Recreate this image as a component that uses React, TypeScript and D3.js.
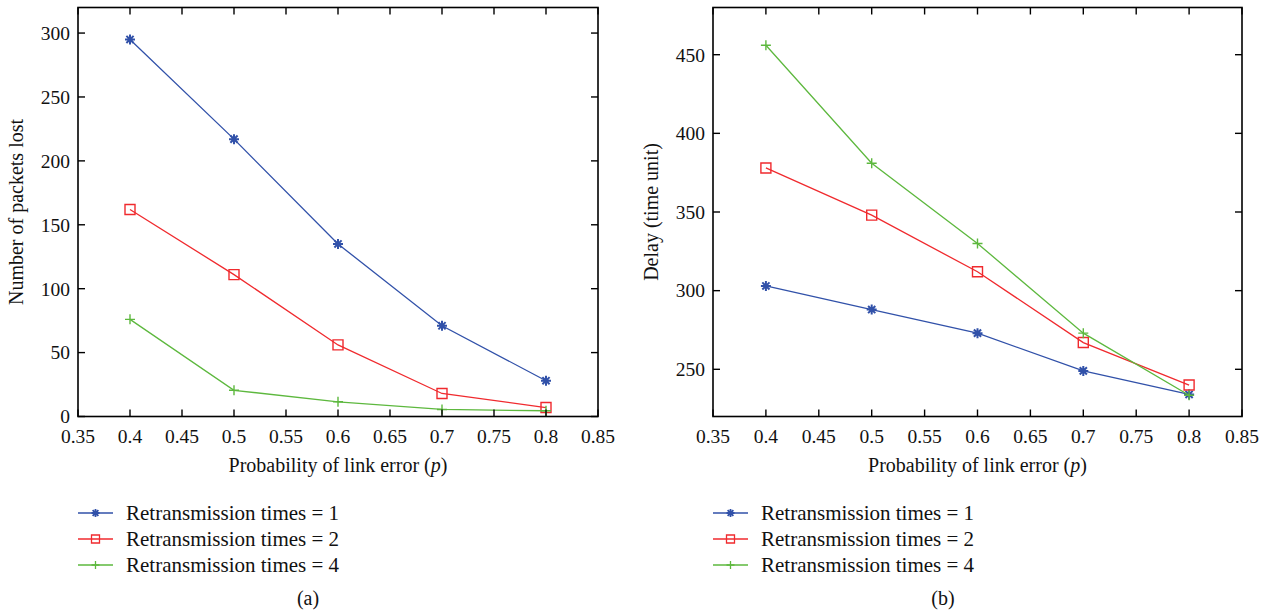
import React from "react";
import * as d3 from "d3";

// x values (probability of link error)
const pValues = [0.4, 0.5, 0.6, 0.7, 0.8];
const xTicks = [0.35, 0.4, 0.45, 0.5, 0.55, 0.6, 0.65, 0.7, 0.75, 0.8, 0.85];

const seriesNames = [
  "Retransmission times = 1",
  "Retransmission times = 2",
  "Retransmission times = 4",
];
const seriesColors = ["#3151a9", "#f02a2e", "#5db83e"];
const seriesMarkers = ["star", "square", "plus"];

// panel (a): packets lost
const lostR1 = [295, 217, 135, 71, 28];
const lostR2 = [162, 111, 56, 18, 7];
const lostR4 = [76, 20.5, 11.5, 5.5, 4.5];
const lostTicks = [0, 50, 100, 150, 200, 250, 300];

// panel (b): delay
const delayR1 = [303, 288, 273, 249, 234];
const delayR2 = [378, 348, 312, 267, 240];
const delayR4 = [456, 381, 330, 273, 233.5];
const delayTicks = [250, 300, 350, 400, 450];

const FONT = "'Liberation Serif', 'Times New Roman', serif";

function markerPath(kind, s) {
  if (kind === "square") {
    return `M${-s},${-s}H${s}V${s}H${-s}Z`;
  }
  if (kind === "plus") {
    return `M${-s},0H${s}M0,${-s}V${s}`;
  }
  // asterisk
  const d = s * 0.72;
  return `M${-s},0H${s}M0,${-s}V${s}M${-d},${-d}L${d},${d}M${-d},${d}L${d},${-d}`;
}

function Panel({ left, width, yDomain, yTicks, series, yLabel, tag }) {
  const ref = React.useRef();
  React.useEffect(() => {
    const top = 7.5;
    const bottom = 416.5;
    const g = d3.select(ref.current);
    g.selectAll("*").remove();

    const x = d3.scaleLinear().domain([0.35, 0.85]).range([left, left + width]);
    const y = d3.scaleLinear().domain(yDomain).range([bottom, top]);
    const tickLen = 7;

    // lines + markers
    series.forEach((vals, i) => {
      const pts = pValues.map((p, j) => [x(p), y(vals[j])]);
      g.append("path")
        .attr("d", d3.line()(pts))
        .attr("fill", "none")
        .attr("stroke", seriesColors[i])
        .attr("stroke-width", 1.3);
      g.append("g")
        .selectAll()
        .data(pts)
        .join("path")
        .attr("transform", (d) => `translate(${d[0]},${d[1]})`)
        .attr("d", markerPath(seriesMarkers[i], 5))
        .attr("fill", "none")
        .attr("stroke", seriesColors[i])
        .attr("stroke-width", seriesMarkers[i] === "star" ? 2 : 1.4);
    });

    // frame
    g.append("rect")
      .attr("x", left)
      .attr("y", top)
      .attr("width", width)
      .attr("height", bottom - top)
      .attr("fill", "none")
      .attr("stroke", "#000")
      .attr("stroke-width", 1.6);

    // x ticks
    xTicks.forEach((t) => {
      g.append("line")
        .attr("x1", x(t)).attr("x2", x(t))
        .attr("y1", bottom).attr("y2", bottom - tickLen)
        .attr("stroke", "#000").attr("stroke-width", 1.4);
      g.append("line")
        .attr("x1", x(t)).attr("x2", x(t))
        .attr("y1", top).attr("y2", top + tickLen)
        .attr("stroke", "#000").attr("stroke-width", 1.4);
      g.append("text")
        .attr("x", x(t))
        .attr("y", bottom + 26)
        .attr("text-anchor", "middle")
        .attr("font-size", 19.5)
        .attr("font-family", FONT)
        .attr("fill", "#111")
        .text(String(t));
    });

    // y ticks
    yTicks.forEach((t) => {
      g.append("line")
        .attr("x1", left).attr("x2", left + tickLen)
        .attr("y1", y(t)).attr("y2", y(t))
        .attr("stroke", "#000").attr("stroke-width", 1.4);
      g.append("line")
        .attr("x1", left + width).attr("x2", left + width - tickLen)
        .attr("y1", y(t)).attr("y2", y(t))
        .attr("stroke", "#000").attr("stroke-width", 1.4);
      g.append("text")
        .attr("x", left - 8)
        .attr("y", y(t))
        .attr("dy", "0.35em")
        .attr("text-anchor", "end")
        .attr("font-size", 19.5)
        .attr("font-family", FONT)
        .attr("fill", "#111")
        .text(String(t));
    });

    // axis titles
    const xl = g.append("text")
      .attr("x", left + width / 2)
      .attr("y", 472)
      .attr("text-anchor", "middle")
      .attr("font-size", 20)
      .attr("font-family", FONT)
      .attr("fill", "#111");
    xl.append("tspan").text("Probability of link error (");
    xl.append("tspan").attr("font-style", "italic").text("p");
    xl.append("tspan").text(")");

    g.append("text")
      .attr("transform", `translate(${left - 55},${(top + bottom) / 2}) rotate(-90)`)
      .attr("text-anchor", "middle")
      .attr("font-size", 20)
      .attr("font-family", FONT)
      .attr("fill", "#111")
      .text(yLabel);

    // legend
    const lx = left;
    const rowY = [513, 539, 565];
    seriesNames.forEach((name, i) => {
      g.append("line")
        .attr("x1", lx).attr("x2", lx + 35)
        .attr("y1", rowY[i]).attr("y2", rowY[i])
        .attr("stroke", seriesColors[i]).attr("stroke-width", 1.5);
      g.append("path")
        .attr("transform", `translate(${lx + 17.5},${rowY[i]})`)
        .attr("d", markerPath(seriesMarkers[i], 4))
        .attr("fill", "none")
        .attr("stroke", seriesColors[i])
        .attr("stroke-width", seriesMarkers[i] === "star" ? 1.8 : 1.3);
      g.append("text")
        .attr("x", lx + 48)
        .attr("y", rowY[i])
        .attr("dy", "0.35em")
        .attr("font-size", 21)
        .attr("font-family", FONT)
        .attr("fill", "#111")
        .text(name);
    });

    g.append("text")
      .attr("x", left + 230)
      .attr("y", 598)
      .attr("dy", "0.35em")
      .attr("text-anchor", "middle")
      .attr("font-size", 20)
      .attr("font-family", FONT)
      .attr("fill", "#111")
      .text(tag);
  }, [left, width, yDomain, yTicks, series, yLabel, tag]);

  return <g ref={ref}></g>;
}

export default function App() {
  return (
    <svg
      width={1271}
      height={612}
      viewBox="0 0 1271 612"
      style={{ position: "absolute", left: 0, top: 0, background: "#fff" }}
    >
      <Panel
        left={78}
        width={520}
        yDomain={[0, 320]}
        yTicks={lostTicks}
        series={[lostR1, lostR2, lostR4]}
        yLabel="Number of packets lost"
        tag="(a)"
      />
      <Panel
        left={713}
        width={529}
        yDomain={[220, 480]}
        yTicks={delayTicks}
        series={[delayR1, delayR2, delayR4]}
        yLabel="Delay (time unit)"
        tag="(b)"
      />
    </svg>
  );
}
